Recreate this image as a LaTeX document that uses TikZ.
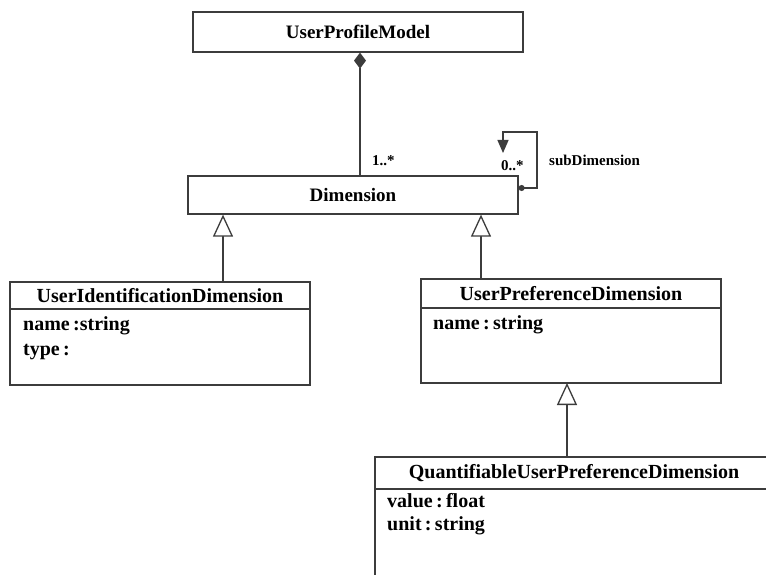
\documentclass[tikz,border=0pt]{standalone}
\usepackage{fontspec}
\setmainfont{Liberation Serif}
\usepackage{tikz}
\usetikzlibrary{arrows.meta,positioning}
\definecolor{umlline}{HTML}{3C3C3C}
\tikzstyle{classtop} = [draw=umlline, line width=1.3pt, fill=white, rectangle,
    inner sep=0pt, font=\fontsize{19}{23}\selectfont\bfseries]
\tikzstyle{classhead} = [draw=umlline, line width=1.3pt, fill=white, rectangle,
    inner sep=0pt, outer sep=0pt, font=\fontsize{20}{24}\selectfont\bfseries]
\tikzstyle{classbody} = [draw=umlline, line width=1.3pt, fill=white, rectangle,
    inner sep=0pt, outer sep=0pt, anchor=north]
\tikzstyle{attr} = [inner sep=0pt, anchor=base west, font=\fontsize{20}{24}\selectfont\bfseries]
\tikzstyle{mult} = [inner sep=0pt, anchor=base west, font=\fontsize{15}{18}\selectfont\bfseries]
\tikzstyle{composition} = [draw=umlline, line width=1.3pt, {Diamond[length=16pt,width=12pt]}-]
\tikzstyle{inherit} = [draw=umlline, line width=1.3pt, -{Triangle[open,length=22pt,width=20pt,fill=white]}]
\tikzstyle{selfassoc} = [draw=umlline, line width=1.3pt, {Circle[length=6pt]}-{Triangle[length=13pt,width=11pt]}]

\begin{document}
\begin{tikzpicture}[x=1pt, y=-1pt]
    \useasboundingbox (0,0) rectangle (766,575);
    \clip (0,0) rectangle (766,575);
    \fill[white] (0,0) rectangle (766,575);

    \node[classtop, minimum width=330pt, minimum height=40pt] (upm) at (358,32) {UserProfileModel};
    \node[classtop, minimum width=330pt, minimum height=38pt] (dim) at (353,195) {Dimension};

    % left branch
    \node[classhead, minimum width=300pt, minimum height=27pt] (uid) at (160,295.5) {UserIdentificationDimension};
    \node[classbody, minimum width=300pt, minimum height=76pt, below=0pt of uid] (uidbody) {};
    \node[attr] (uidname) at ([shift={(13,21)}]uidbody.north west) {name\,:string};
    \node[attr] (uidtype) at ([shift={(0,25)}]uidname.base west) {type\,:};

    % right branch
    \node[classhead, minimum width=300pt, minimum height=29pt] (upd) at (571,293.5) {UserPreferenceDimension};
    \node[classbody, minimum width=300pt, minimum height=75pt, below=0pt of upd] (updbody) {};
    \node[attr] (updname) at ([shift={(12,21)}]updbody.north west) {name\,:\,string};

    \node[classhead, minimum width=398pt, minimum height=32pt] (qupd) at (574,473) {QuantifiableUserPreferenceDimension};
    \node[classbody, minimum width=398pt, minimum height=130pt, below=0pt of qupd] (qupdbody) {};
    \node[attr] (qupdvalue) at ([shift={(12,18)}]qupdbody.north west) {value\,:\,float};
    \node[attr] (qupdunit) at ([shift={(0,23)}]qupdvalue.base west) {unit\,:\,string};

    % connectors
    \draw[composition] ([xshift=2pt]upm.south) -- ([xshift=2pt]upm.south |- dim.north);
    \draw[inherit] ([xshift=63pt]uid.north) -- ([xshift=63pt]uid.north |- dim.south);
    \draw[inherit] ([xshift=-90pt]upd.north) -- ([xshift=-90pt]upd.north |- dim.south);
    \draw[inherit] ([xshift=-7pt]qupd.north) -- ([xshift=-7pt]qupd.north |- updbody.south);

    \coordinate (loopend) at (503,153);
    \draw[selfassoc] ([yshift=7pt]dim.east) -| (537,132) -| (loopend);

    \node[mult] (multdim) at (372,165) {1..*};
    \node[mult] (multsub) at (501,171) {0..*};
    \node[mult] (subname) at (549,165) {subDimension};
\end{tikzpicture}
\end{document}
